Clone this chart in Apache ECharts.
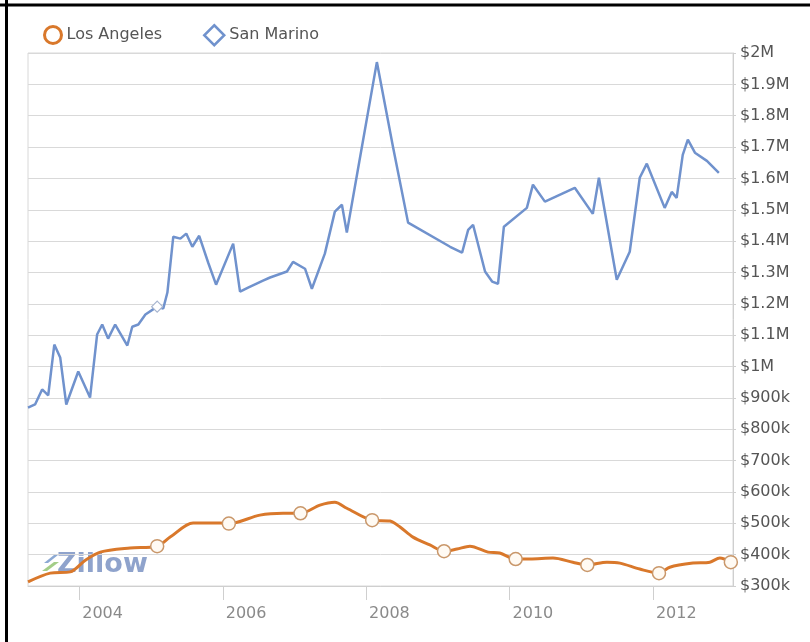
<!DOCTYPE html>
<html>
<head>
<meta charset="utf-8">
<title>Los Angeles vs San Marino home values</title>
<style>
  html, body { margin: 0; padding: 0; background: #fff; }
  #chart { width: 810px; height: 642px; }
</style>
<script src="https://cdn.jsdelivr.net/npm/echarts@6/dist/echarts.min.js"></script>
</head>
<body>
<div id="chart"></div>
<script>
// Los Angeles median value
const laDates = ['2003-04-15', '2003-08-06', '2003-11-16', '2004-02-01', '2004-04-17', '2004-09-16',
    '2005-02-01', '2005-04-08', '2005-08-03', '2005-12-18', '2006-02-01', '2006-07-09', '2006-11-04',
    '2007-02-01', '2007-05-11', '2007-07-26', '2007-09-25', '2008-02-01', '2008-05-02', '2008-06-22',
    '2008-08-27', '2008-11-21', '2009-02-01', '2009-04-08', '2009-06-13', '2009-09-13', '2009-11-12',
    '2010-02-01', '2010-04-15', '2010-08-10', '2010-11-19', '2011-02-01', '2011-05-12', '2011-07-17',
    '2011-10-26', '2012-02-01', '2012-03-27', '2012-07-23', '2012-10-17', '2012-12-07', '2013-02-01'];
const laValues = [313000, 341000, 345000, 382000, 408000, 421000,
    427000, 456000, 501000, 501000, 499000, 526000, 532000,
    532000, 558000, 567000, 548000, 510000, 507000, 488000,
    456000, 431000, 411000, 418000, 427000, 408000, 405000,
    386000, 386000, 389000, 376000, 367000, 376000, 373000,
    354000, 341000, 360000, 373000, 376000, 389000, 376000];
const laMarkers = ['2005-02-01', '2006-02-01', '2007-02-01', '2008-02-01', '2009-02-01',
    '2010-02-01', '2011-02-01', '2012-02-01', '2013-02-01'];

// San Marino
const smDates = ['2003-04-15', '2003-05-21', '2003-06-26', '2003-07-27', '2003-08-27', '2003-09-26',
    '2003-10-27', '2003-12-27', '2004-02-25', '2004-04-01', '2004-04-27', '2004-05-27', '2004-07-02',
    '2004-09-02', '2004-09-27', '2004-10-28', '2004-12-03', '2005-02-01', '2005-03-04', '2005-03-25',
    '2005-04-24', '2005-05-30', '2005-06-29', '2005-07-30', '2005-09-03', '2005-10-19', '2005-11-28',
    '2006-02-23', '2006-03-30', '2006-05-10', '2006-07-25', '2006-08-30', '2006-11-24', '2006-12-25',
    '2007-02-24', '2007-03-31', '2007-06-05', '2007-07-26', '2007-08-31', '2007-09-25', '2007-11-20',
    '2008-02-25', '2008-05-17', '2008-08-02', '2009-03-04', '2009-05-04', '2009-06-04', '2009-06-29',
    '2009-08-29', '2009-10-04', '2009-11-03', '2009-12-03', '2010-03-30', '2010-04-30', '2010-06-30',
    '2010-11-29', '2011-03-01', '2011-04-01', '2011-07-01', '2011-09-05', '2011-10-26', '2011-12-01',
    '2012-03-01', '2012-04-06', '2012-05-01', '2012-06-01', '2012-06-27', '2012-08-02', '2012-10-02',
    '2012-12-02'];
const smValues = [869000, 879000, 927000, 908000, 1070000, 1029000,
    879000, 984000, 901000, 1102000, 1134000, 1089000, 1134000,
    1067000, 1127000, 1134000, 1166000, 1191000, 1185000, 1236000,
    1414000, 1408000, 1424000, 1382000, 1417000, 1331000, 1261000,
    1392000, 1239000, 1252000, 1274000, 1284000, 1303000, 1334000,
    1312000, 1248000, 1360000, 1494000, 1516000, 1427000, 1627000,
    1971000, 1701000, 1459000, 1382000, 1363000, 1436000, 1452000,
    1303000, 1271000, 1264000, 1446000, 1506000, 1580000, 1526000,
    1570000, 1487000, 1602000, 1277000, 1366000, 1602000, 1647000,
    1506000, 1557000, 1538000, 1675000, 1724000, 1682000, 1656000,
    1618000];
const smMarkers = ['2005-02-01'];

const yearTicks = ['2004-01-01', '2006-01-01', '2008-01-01', '2010-01-01', '2012-01-01'];

const LA_COLOR = '#d9782b';
const SM_COLOR = '#7092cd';
const FONT = '"DejaVu Sans", Verdana, sans-serif';

function toTime(s) {
    return new Date(s.replace(/-/g, '/')).getTime();
}

function markedData(dates, values, marks, symbol) {
    return dates.map((d, i) => ({
        value: [toTime(d), values[i]],
        symbol: marks.includes(d) ? symbol : 'none'
    }));
}

const chart = echarts.init(document.getElementById('chart'));

chart.setOption({
    animation: false,
    backgroundColor: '#fff',
    textStyle: { fontFamily: FONT },
    legend: [
        {
            left: 38, top: 20,
            itemWidth: 17, itemHeight: 17,
            textStyle: { fontSize: 16, color: '#555', fontFamily: FONT },
            data: [{
                name: 'Los Angeles', icon: 'circle',
                itemStyle: { color: 'rgba(255,255,255,0)', borderColor: LA_COLOR, borderWidth: 3 }
            }]
        },
        {
            left: 198, top: 19,
            itemWidth: 20, itemHeight: 20,
            textStyle: { fontSize: 16, color: '#555', fontFamily: FONT },
            data: [{
                name: 'San Marino', icon: 'diamond',
                itemStyle: { color: 'rgba(255,255,255,0)', borderColor: SM_COLOR, borderWidth: 2.5 }
            }]
        }
    ],
    grid: {
        left: 28, right: 77, top: 53, bottom: 56,
        show: true, borderColor: '#d8d8d8', borderWidth: 1
    },
    xAxis: {
        type: 'value',
        min: toTime('2003-04-15'),
        max: toTime('2013-02-12'),
        splitLine: { show: false },
        axisLine: { lineStyle: { color: '#cfcfcf' } },
        axisTick: {
            show: true, length: 14,
            customValues: yearTicks.map(toTime),
            lineStyle: { color: '#cfcfcf' }
        },
        axisLabel: {
            customValues: yearTicks.map(toTime),
            align: 'left',
            margin: 20,
            padding: [0, 0, 0, 3],
            fontSize: 16,
            color: '#8a8a8a',
            fontFamily: FONT,
            formatter: v => String(new Date(v).getFullYear())
        }
    },
    yAxis: {
        type: 'value',
        position: 'right',
        min: 300000,
        max: 2000000,
        interval: 100000,
        axisLine: { show: true, lineStyle: { color: '#cfcfcf' } },
        axisTick: { show: true, length: 3, lineStyle: { color: '#cfcfcf' } },
        splitLine: { lineStyle: { color: '#d9d9d9' } },
        axisLabel: {
            margin: 7,
            fontSize: 16,
            color: '#555',
            fontFamily: FONT,
            formatter: v => v >= 1000000 ? '$' + (v / 1000000) + 'M' : '$' + (v / 1000) + 'k'
        }
    },
    series: [
        {
            name: 'Los Angeles',
            type: 'line',
            smooth: 0.3,
            showSymbol: true,
            symbolSize: 13,
            lineStyle: { color: LA_COLOR, width: 3 },
            itemStyle: { color: '#fffaf3', borderColor: '#c9976a', borderWidth: 1.5 },
            emphasis: { disabled: true },
            z: 3,
            data: markedData(laDates, laValues, laMarkers, 'circle')
        },
        {
            name: 'San Marino',
            type: 'line',
            showSymbol: true,
            symbolSize: 11,
            lineStyle: { color: SM_COLOR, width: 2.5 },
            itemStyle: { color: '#fff', borderColor: '#a8b6d0', borderWidth: 1.2 },
            emphasis: { disabled: true },
            data: markedData(smDates, smValues, smMarkers, 'diamond')
        }
    ],
    graphic: [
        // black frame on the left and top edges
        { type: 'line', z: 200, shape: { x1: 0, y1: 5, x2: 810, y2: 5 }, style: { stroke: '#000', lineWidth: 3 } },
        { type: 'line', z: 200, shape: { x1: 6.5, y1: 0, x2: 6.5, y2: 642 }, style: { stroke: '#000', lineWidth: 3 } },
        // Zillow watermark
        {
            type: 'group', z: 100, left: 42, top: 551,
            children: [
                { type: 'polygon', shape: { points: [[2, 12], [12, 4], [16, 4], [6, 12]] }, style: { fill: '#6f93c8', opacity: 0.8 } },
                { type: 'polygon', shape: { points: [[0, 20], [12, 11], [17, 11], [5, 20]] }, style: { fill: '#8cc06a', opacity: 0.8 } },
                {
                    type: 'text', left: 15, top: 0,
                    style: { text: 'Zillow', font: 'bold 27px ' + FONT, fill: '#7b93c3', opacity: 0.85 }
                }
            ]
        }
    ]
});
</script>
</body>
</html>
